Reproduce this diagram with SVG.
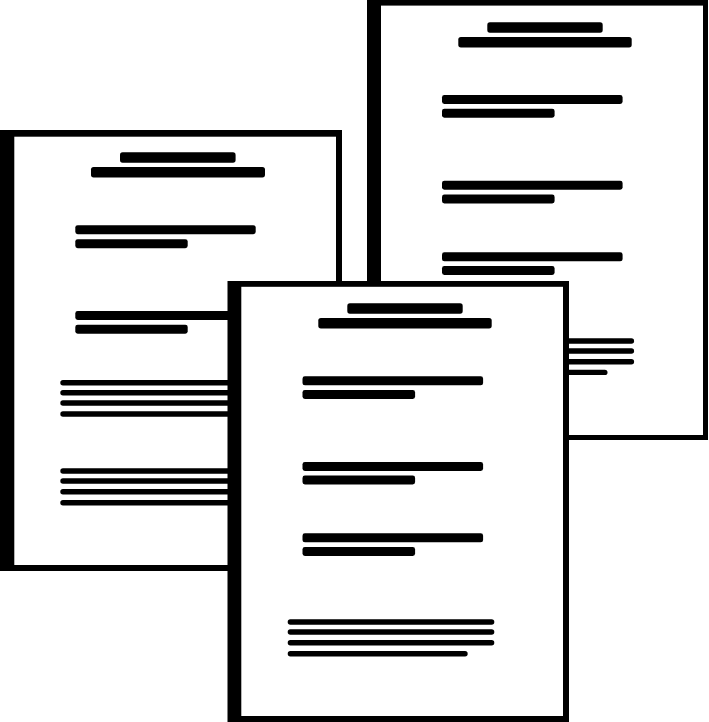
<svg xmlns="http://www.w3.org/2000/svg" width="709" height="722" viewBox="0 0 709 722">
<style>
.frame{fill:#000}
.paper{fill:#fff}
.bar{fill:#000}
.t{height:10.4px;rx:2.6px}
.l{height:9px;rx:2.4px}
.n{height:5.4px;rx:2.7px}
</style>
<rect width="709" height="722" fill="#fff"/>
<g id="page-back">
<rect class="frame" x="367" y="0" width="341" height="440"/>
<rect class="paper" x="381" y="5.6" width="322" height="429.4"/>
<rect class="bar t" x="487.3" y="22.3" width="115.4"/>
<rect class="bar t" x="458.3" y="37" width="173.4"/>
<rect class="bar l" x="442" y="95" width="180.6"/>
<rect class="bar l" x="442" y="108.7" width="112.6"/>
<rect class="bar l" x="442" y="180.7" width="180.6"/>
<rect class="bar l" x="442" y="194.5" width="112.6"/>
<rect class="bar l" x="442" y="252.3" width="180.6"/>
<rect class="bar l" x="442" y="266" width="112.6"/>
<rect class="bar n" x="427.5" y="338.3" width="206.6"/>
<rect class="bar n" x="427.5" y="348.3" width="206.6"/>
<rect class="bar n" x="427.5" y="359" width="206.6"/>
<rect class="bar n" x="427.5" y="369.7" width="180"/>
</g>
<g id="page-left">
<rect class="frame" x="0" y="130" width="342" height="441"/>
<rect class="paper" x="14.3" y="136.7" width="321.7" height="428.3"/>
<rect class="bar t" x="120" y="152.3" width="115.6"/>
<rect class="bar t" x="91" y="167" width="174"/>
<rect class="bar l" x="75.3" y="225.2" width="180.4"/>
<rect class="bar l" x="75.3" y="239.2" width="112.4"/>
<rect class="bar l" x="75.3" y="311" width="180.4"/>
<rect class="bar l" x="75.3" y="324.7" width="112.4"/>
<rect class="bar n" x="60.3" y="380" width="206.6"/>
<rect class="bar n" x="60.3" y="390" width="206.6"/>
<rect class="bar n" x="60.3" y="400.3" width="206.6"/>
<rect class="bar n" x="60.3" y="411.3" width="206.6"/>
<rect class="bar n" x="60.3" y="468.3" width="206.6"/>
<rect class="bar n" x="60.3" y="478.3" width="206.6"/>
<rect class="bar n" x="60.3" y="489" width="206.6"/>
<rect class="bar n" x="60.3" y="500" width="206.6"/>
</g>
<g id="page-front">
<rect class="frame" x="227.5" y="281" width="341.5" height="441"/>
<rect class="paper" x="241.3" y="286.8" width="321.7" height="429.2"/>
<rect class="bar t" x="347.3" y="303.3" width="115.4"/>
<rect class="bar t" x="318.3" y="318" width="173.4"/>
<rect class="bar l" x="302.5" y="376.3" width="180.6"/>
<rect class="bar l" x="302.5" y="390" width="112.6"/>
<rect class="bar l" x="302.5" y="462" width="180.6"/>
<rect class="bar l" x="302.5" y="475.5" width="112.6"/>
<rect class="bar l" x="302.5" y="533.3" width="180.6"/>
<rect class="bar l" x="302.5" y="547" width="112.6"/>
<rect class="bar n" x="287.7" y="619.3" width="206.6"/>
<rect class="bar n" x="287.7" y="629.3" width="206.6"/>
<rect class="bar n" x="287.7" y="640" width="206.6"/>
<rect class="bar n" x="287.7" y="651" width="180"/>
</g>
</svg>
